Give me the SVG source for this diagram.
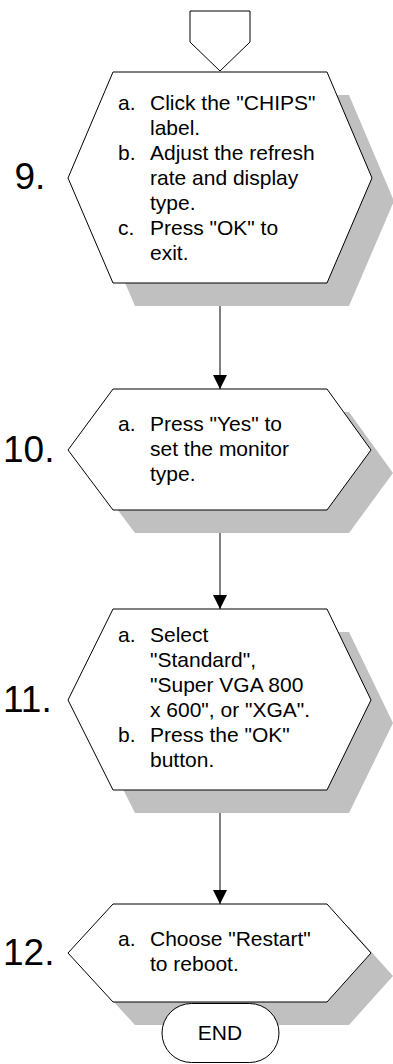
<svg xmlns="http://www.w3.org/2000/svg" width="393" height="1064" viewBox="0 0 393 1064">
<style>
.shape{fill:#fff;stroke:#000;stroke-width:1}
.shadow{fill:#c0c0c0;stroke:none}
.t{font-family:"Liberation Sans",Arial,sans-serif;font-size:21px;fill:#000}
.num{font-family:"Liberation Sans",Arial,sans-serif;font-size:37px;fill:#000}
.conn{stroke:#000;stroke-width:1;fill:none}
</style>
<defs>
<marker id="arr" markerUnits="userSpaceOnUse" markerWidth="14" markerHeight="14" refX="14" refY="7" orient="auto">
<path d="M0,0 L14,7 L0,14 Z" fill="#000"/>
</marker>
</defs>
<rect width="393" height="1064" fill="#fff"/>
<g id="start">
<polygon class="shape" points="190,11 250,11 250,42 220,71 190,42"/>
</g>
<g id="connectors">
<line class="conn" x1="220" y1="283" x2="220" y2="389" marker-end="url(#arr)"/>
<line class="conn" x1="220" y1="510" x2="220" y2="609" marker-end="url(#arr)"/>
<line class="conn" x1="220" y1="790" x2="220" y2="904" marker-end="url(#arr)"/>
</g>
<g id="step9">
<polygon class="shadow" points="135,95 349,95 394,201 349,306 135,306 90,201"/>
<polygon class="shape" points="113,72 327,72 372,178 327,283 113,283 68,178"/>
<text class="num" x="14.5" y="189">9.</text>
<text class="t" x="118" y="110">a.</text>
<text class="t" x="150" y="110">Click the "CHIPS"</text>
<text class="t" x="150" y="135">label.</text>
<text class="t" x="118" y="160">b.</text>
<text class="t" x="150" y="160">Adjust the refresh</text>
<text class="t" x="150" y="185">rate and display</text>
<text class="t" x="150" y="210">type.</text>
<text class="t" x="118" y="235">c.</text>
<text class="t" x="150" y="235">Press "OK" to</text>
<text class="t" x="150" y="260">exit.</text>
</g>
<g id="step10">
<polygon class="shadow" points="135,412 349,412 393,473 349,533 135,533 90,473"/>
<polygon class="shape" points="113,389 327,389 371,450 327,510 113,510 68,450"/>
<text class="num" x="3" y="462">10.</text>
<text class="t" x="118" y="431">a.</text>
<text class="t" x="150" y="431">Press "Yes" to</text>
<text class="t" x="150" y="456">set the monitor</text>
<text class="t" x="150" y="481">type.</text>
</g>
<g id="step11">
<polygon class="shadow" points="135,632 349,632 393,723 349,813 135,813 90,723"/>
<polygon class="shape" points="113,609 327,609 371,700 327,790 113,790 68,700"/>
<text class="num" x="3" y="712">11.</text>
<text class="t" x="118" y="642">a.</text>
<text class="t" x="150" y="642">Select</text>
<text class="t" x="150" y="667">"Standard",</text>
<text class="t" x="150" y="692">"Super VGA 800</text>
<text class="t" x="150" y="717">x 600", or "XGA".</text>
<text class="t" x="118" y="742">b.</text>
<text class="t" x="150" y="742">Press the "OK"</text>
<text class="t" x="150" y="767">button.</text>
</g>
<g id="step12">
<polygon class="shadow" points="135,927 349,927 393,976 349,1025 135,1025 90,976"/>
<polygon class="shape" points="113,904 327,904 371,953 327,1002 113,1002 68,953"/>
<text class="num" x="3" y="965">12.</text>
<text class="t" x="118" y="946">a.</text>
<text class="t" x="150" y="946">Choose "Restart"</text>
<text class="t" x="150" y="971">to reboot.</text>
</g>
<g id="end">
<rect class="shape" x="162" y="1003.5" width="117" height="59" rx="29.5" ry="29.5"/>
<text class="t" x="220" y="1039.5" text-anchor="middle">END</text>
</g>
</svg>
